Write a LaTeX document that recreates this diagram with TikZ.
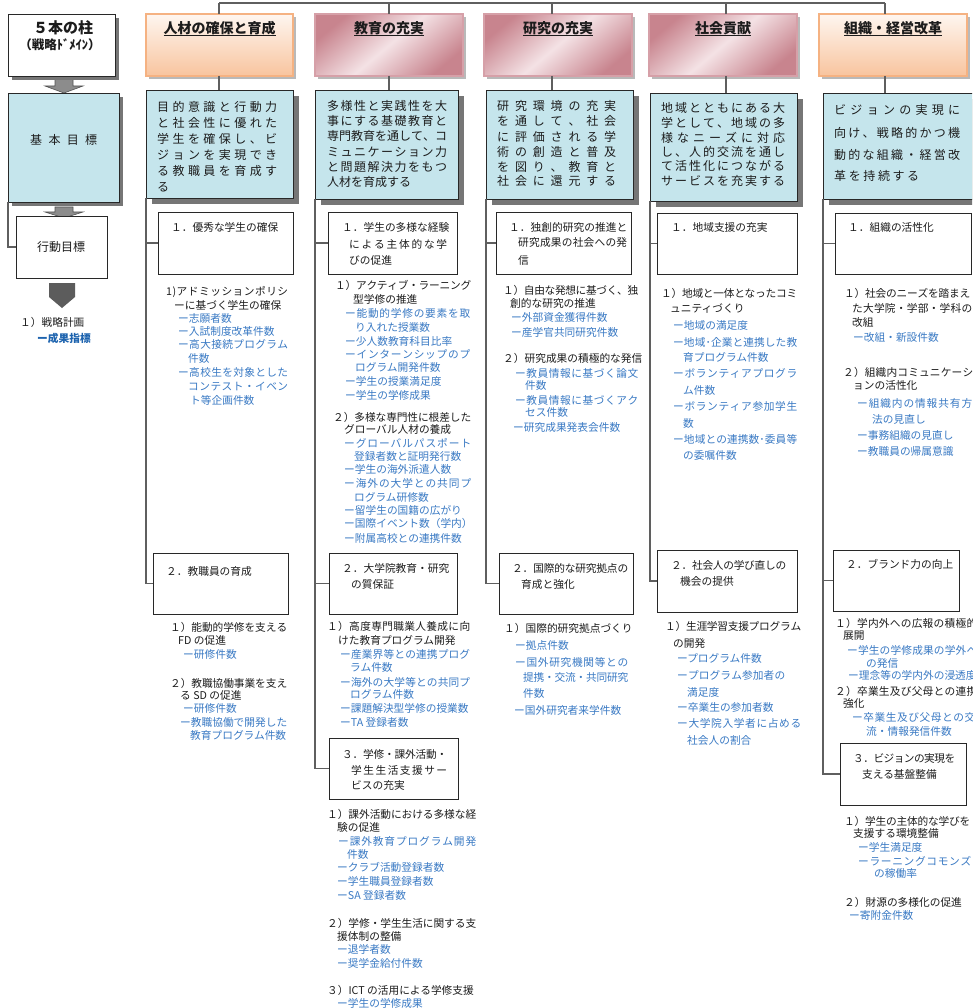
\documentclass[tikz,border=0pt]{standalone}
\usepackage{fontspec}
\usetikzlibrary{shadows,calc}
\newfontfamily\jp{Noto Sans CJK JP}
\definecolor{tblack}{RGB}{28,28,28}
\definecolor{lnk}{RGB}{58,122,196}
\definecolor{lnkdark}{RGB}{30,100,175}
\definecolor{bluefill}{RGB}{197,229,236}
\definecolor{orangetop}{RGB}{254,246,240}
\definecolor{orangebot}{RGB}{248,196,158}
\definecolor{orangeedge}{RGB}{245,178,130}
\definecolor{pinkdark}{RGB}{200,132,142}
\definecolor{pinklight}{RGB}{244,226,229}
\definecolor{pinkedge}{RGB}{214,160,168}
\definecolor{conngray}{RGB}{95,95,95}
\definecolor{edge}{RGB}{40,40,40}
\definecolor{shadowdark}{RGB}{118,118,118}
\definecolor{shadowlight}{RGB}{185,185,185}
\definecolor{arrowgray}{RGB}{140,140,140}
\definecolor{arrowdark}{RGB}{92,92,92}
\makeatletter
\newcommand\spreadit[1]{\let\sp@g\relax\@tfor\sp@c:=#1\do{\sp@g\sp@c\def\sp@g{\hskip 0pt plus 1fil minus 1.2pt\relax}}}
\makeatother
\newcounter{ln}
\newcommand\Tx[4][tx]{\stepcounter{ln}\node[#1] (t\theln) at (#2,#3) {#4};}
\newcommand\Tj[5][tx]{\stepcounter{ln}\pgfmathsetmacro\ww{#4-#2}\node[#1] (t\theln) at (#2,#3) {\hbox to \ww pt{\spreadit{#5}}};}
\newcommand\Bx[6]{\node[#2, minimum width={#5-#3}, minimum height={#6-#4}] (#1) at (#3,#4) {};}
\newcommand\ulbox[1]{\setbox0\hbox{#1}\rlap{\vrule width\wd0 height -1.6pt depth 2.7pt}\box0}
\begin{document}
\begin{tikzpicture}[x=1pt,y=-1pt,
 tx/.style={anchor=base west, inner sep=0pt, yshift=-4pt, text=tblack, font=\jp\fontsize{10.7}{12}\selectfont},
 bt/.style={tx, text=lnk},
 bbt/.style={tx, text=lnkdark, font=\jp\bfseries\fontsize{10.7}{12}\selectfont},
 gt/.style={anchor=base west, inner sep=0pt, yshift=-4.6pt, text=tblack, font=\jp\fontsize{12}{14}\selectfont},
 ttl/.style={inner sep=0pt, text=tblack, font=\jp\bfseries\fontsize{14}{16}\selectfont},
 boxbase/.style={anchor=north west, inner sep=0pt, outer sep=0pt},
 wbox/.style={boxbase, draw=edge, line width=0.9pt, fill=white},
 bbox/.style={boxbase, draw=edge, line width=0.9pt, fill=bluefill, drop shadow={shadow xshift=#1, shadow yshift=-#1, fill=shadowdark, opacity=1}},
 bbox/.default=6pt,
 obox/.style={boxbase, draw=orangeedge, line width=1.2pt, top color=orangetop, bottom color=orangebot, drop shadow={shadow xshift=3pt, shadow yshift=-3pt, fill=shadowlight, opacity=1}},
 pbox/.style={boxbase, draw=pinkedge, line width=1.2pt, top color=pinkdark, bottom color=pinkdark, middle color=pinklight, shading angle=40, drop shadow={shadow xshift=3pt, shadow yshift=-3pt, fill=shadowlight, opacity=1}},
 conn/.style={draw=conngray, line width=1.1pt}
]
\useasboundingbox (0,0) rectangle (972,1008);
\fill[white] (0,0) rectangle (972,1008);
\clip (0,0) rectangle (972,1008);

% ---------- left column ----------
\filldraw[fill=arrowgray, draw=edge!80, line width=0.6pt] (55,78) -- (73,78) -- (73,86) -- (83,86) -- (64,93) -- (45,86) -- (55,86) -- cycle;
\filldraw[fill=arrowgray, draw=edge!80, line width=0.6pt] (55,207) -- (73,207) -- (73,212) -- (83,212) -- (64,218) -- (45,212) -- (55,212) -- cycle;
\Bx{p5}{wbox, drop shadow={shadow xshift=4pt, shadow yshift=-4pt, fill=shadowdark, opacity=1}}{8}{14}{115}{76}
\node[ttl, font=\jp\bfseries\fontsize{15}{17}\selectfont] (p5a) at (63,28) {５本の柱};
\node[ttl, font=\jp\bfseries\fontsize{12.5}{15}\selectfont] (p5b) at (60,45) {（戦略ﾄﾞﾒｲﾝ）};
\Bx{kihon}{bbox=4pt}{8}{93}{119}{202}
\Tj[gt]{30}{140}{97}{基本目標}
\Bx{kodo}{wbox}{16}{216}{107}{278}
\Tx[gt]{37}{247}{行動目標}
\draw[conn] (kihon.south west) |- (kodo.west);
\fill[arrowdark] (49,283) -- (75,283) -- (75,297) -- (62,308) -- (49,297) -- cycle;
\Tx{20}{322}{１）戦略計画}
\Tx[bbt]{37}{338}{ー成果指標}

% ---------- boxes ----------
\Bx{h1}{obox}{146}{14}{293}{76}
\Bx{h2}{pbox}{315}{14}{463}{76}
\Bx{h3}{pbox}{484}{14}{632}{76}
\Bx{h4}{pbox}{649}{14}{797}{76}
\Bx{h5}{obox}{819}{14}{967}{76}
\Bx{g1}{bbox}{146}{90}{293}{198}
\Bx{g2}{bbox}{315}{90}{458}{199}
\Bx{g3}{bbox}{486}{90}{633}{199}
\Bx{g4}{bbox}{650}{93}{797}{201}
\Bx{g5}{bbox}{823}{93}{985}{199}
\Bx{b11}{wbox}{158}{212}{293}{274}
\Bx{b12}{wbox}{153}{553}{288}{614}
\Bx{b21}{wbox}{328}{212}{457}{274}
\Bx{b22}{wbox}{329}{553}{457}{614}
\Bx{b23}{wbox}{329}{738}{458}{799}
\Bx{b31}{wbox}{496}{212}{631}{274}
\Bx{b32}{wbox}{499}{553}{633}{614}
\Bx{b41}{wbox}{657}{213}{797}{274}
\Bx{b42}{wbox}{657}{550}{797}{612}
\Bx{b51}{wbox}{835}{213}{971}{274}
\Bx{b52}{wbox}{833}{550}{959}{611}
\Bx{b53}{wbox}{840}{743}{966}{805}

% ---------- connectors ----------
\coordinate (k1) at (219,3);
\coordinate (k2) at (389,3);
\coordinate (k3) at (552,3);
\coordinate (k4) at (726,3);
\coordinate (k5) at (885,3);
\draw[conn] (k1) -- (k5);
\foreach \i in {1,...,5}{
  \draw[conn] (k\i) -- (k\i |- h\i.north);
  \draw[conn] (k\i |- h\i.south) -- (k\i |- g\i.north);
}
\draw[conn] (g1.south west) |- (b11.west);
\draw[conn] (g1.south west) |- (b12.west);
\draw[conn] (g2.south west) |- (b21.west);
\draw[conn] (g2.south west) |- (b22.west);
\draw[conn] (g2.south west) |- (b23.west);
\draw[conn] (g3.south west) |- (b31.west);
\draw[conn] (g3.south west) |- (b32.west);
\draw[conn] (g4.south west) |- (b41.west);
\draw[conn] (g4.south west) |- (b42.west);
\draw[conn] (g5.south west) |- (b51.west);
\draw[conn] (g5.south west) |- (b52.west);
\draw[conn] (g5.south west) |- (b53.west);

% ---------- titles ----------
\node[ttl] (h1t) at ([yshift=-15pt]h1.north) {\ulbox{人材の確保と育成}};
\node[ttl] (h2t) at ([yshift=-15pt]h2.north) {\ulbox{教育の充実}};
\node[ttl] (h3t) at ([yshift=-15pt]h3.north) {\ulbox{研究の充実}};
\node[ttl] (h4t) at ([yshift=-15pt]h4.north) {\ulbox{社会貢献}};
\node[ttl] (h5t) at ([yshift=-15pt]h5.north) {\ulbox{組織・経営改革}};

% ---------- column 1 ----------
\Tj[gt]{157}{107}{277}{目的意識と行動力}
\Tj[gt]{157}{123}{277}{と社会性に優れた}
\Tj[gt]{157}{139}{277}{学生を確保し、ビ}
\Tj[gt]{157}{155}{277}{ジョンを実現でき}
\Tj[gt]{157}{171}{277}{る教職員を育成す}
\Tx[gt]{157}{187}{る}
\Tx{171}{228}{１．優秀な学生の確保}
\Tj{166}{291}{288}{1)アドミッションポリシ}
\Tx{174}{305}{ーに基づく学生の確保}
\Tx[bt]{178}{318}{ー志願者数}
\Tx[bt]{178}{331}{ー入試制度改革件数}
\Tj[bt]{178}{344}{288}{ー高大接続プログラム}
\Tx[bt]{188}{358}{件数}
\Tj[bt]{178}{372}{288}{ー高校生を対象とした}
\Tj[bt]{188}{386}{288}{コンテスト・イベン}
\Tx[bt]{190}{400}{ト等企画件数}
\Tx{166}{571}{２．教職員の育成}
\Tj{170}{627}{287}{１）能動的学修を支える}
\Tx{178}{640}{FD の促進}
\Tx[bt]{183}{654}{ー研修件数}
\Tj{170}{683}{287}{２）教職協働事業を支え}
\Tx{180}{695}{る SD の促進}
\Tx[bt]{183}{708}{ー研修件数}
\Tj[bt]{180}{722}{287}{ー教職協働で開発した}
\Tx[bt]{190}{735}{教育プログラム件数}

% ---------- column 2 ----------
\Tj[gt]{327}{106}{447}{多様性と実践性を大}
\Tj[gt]{327}{121}{447}{事にする基礎教育と}
\Tj[gt]{327}{136}{447}{専門教育を通して、コ}
\Tj[gt]{327}{152}{447}{ミュニケーション力}
\Tj[gt]{327}{167}{447}{と問題解決力をもつ}
\Tx[gt]{327}{182}{人材を育成する}
\Tx{342}{228}{１．学生の多様な経験}
\Tj{349}{244}{447}{による主体的な学}
\Tx{349}{260}{びの促進}
\Tj{335}{285}{471}{１）アクティブ・ラーニング}
\Tx{353}{299}{型学修の推進}
\Tj[bt]{345}{313}{470}{ー能動的学修の要素を取}
\Tx[bt]{355}{327}{り入れた授業数}
\Tx[bt]{345}{341}{ー少人数教育科目比率}
\Tj[bt]{345}{354}{470}{ーインターンシップのプ}
\Tx[bt]{355}{367}{ログラム開発件数}
\Tx[bt]{345}{381}{ー学生の授業満足度}
\Tx[bt]{345}{395}{ー学生の学修成果}
\Tj{333}{417}{471}{２）多様な専門性に根差した}
\Tx{344}{429}{グローバル人材の養成}
\Tj[bt]{344}{443}{471}{ーグローバルパスポート}
\Tx[bt]{354}{456}{登録者数と証明発行数}
\Tx[bt]{344}{469}{ー学生の海外派遣人数}
\Tj[bt]{344}{483}{471}{ー海外の大学との共同プ}
\Tx[bt]{354}{497}{ログラム研修数}
\Tx[bt]{344}{510}{ー留学生の国籍の広がり}
\Tx[bt]{344}{523}{ー国際イベント数（学内）}
\Tx[bt]{344}{538}{ー附属高校との連携件数}
\Tx{342}{568}{２．大学院教育・研究}
\Tx{351}{584}{の質保証}
\Tj{327}{626}{470}{１）高度専門職業人養成に向}
\Tx{338}{640}{けた教育プログラム開発}
\Tj[bt]{340}{654}{470}{ー産業界等との連携プログ}
\Tx[bt]{350}{667}{ラム件数}
\Tj[bt]{340}{682}{470}{ー海外の大学等との共同プ}
\Tx[bt]{350}{694}{ログラム件数}
\Tx[bt]{340}{708}{ー課題解決型学修の授業数}
\Tx[bt]{340}{722}{ーTA 登録者数}
\Tj{342}{754}{447}{３．学修・課外活動・}
\Tj{351}{770}{447}{学生生活支援サー}
\Tx{351}{785}{ビスの充実}
\Tj{327}{814}{476}{１）課外活動における多様な経}
\Tx{337}{827}{験の促進}
\Tj[bt]{338}{841}{476}{ー課外教育プログラム開発}
\Tx[bt]{347}{854}{件数}
\Tx[bt]{337}{867}{ークラブ活動登録者数}
\Tx[bt]{337}{881}{ー学生職員登録者数}
\Tx[bt]{337}{895}{ーSA 登録者数}
\Tj{327}{923}{476}{２）学修・学生生活に関する支}
\Tx{337}{936}{援体制の整備}
\Tx[bt]{337}{949}{ー退学者数}
\Tx[bt]{337}{963}{ー奨学金給付件数}
\Tx{327}{990}{３）ICT の活用による学修支援}
\Tx[bt]{337}{1003}{ー学生の学修成果}

% ---------- column 3 ----------
\Tj[gt]{497}{106}{616}{研究環境の充実}
\Tj[gt]{497}{121}{616}{を通して、社会}
\Tj[gt]{497}{137}{616}{に評価される学}
\Tj[gt]{497}{152}{616}{術の創造と普及}
\Tj[gt]{497}{167}{616}{を図り、教育と}
\Tj[gt]{497}{181}{616}{社会に還元する}
\Tj{509}{228}{627}{１．独創的研究の推進と}
\Tj{518}{243}{627}{研究成果の社会への発}
\Tx{518}{260}{信}
\Tj{503}{290}{638}{１）自由な発想に基づく、独}
\Tx{510}{303}{創的な研究の推進}
\Tx[bt]{511}{317}{ー外部資金獲得件数}
\Tx[bt]{511}{332}{ー産学官共同研究件数}
\Tx{503}{358}{２）研究成果の積極的な発信}
\Tj[bt]{515}{373}{638}{ー教員情報に基づく論文}
\Tx[bt]{525}{385}{件数}
\Tj[bt]{515}{400}{638}{ー教員情報に基づくアク}
\Tx[bt]{525}{412}{セス件数}
\Tx[bt]{513}{427}{ー研究成果発表会件数}
\Tj{512}{568}{628}{２．国際的な研究拠点の}
\Tx{521}{584}{育成と強化}
\Tx{504}{628}{１）国際的研究拠点づくり}
\Tx[bt]{515}{645}{ー拠点件数}
\Tj[bt]{515}{662}{628}{ー国外研究機関等との}
\Tj[bt]{523}{677}{628}{提携・交流・共同研究}
\Tx[bt]{523}{693}{件数}
\Tx[bt]{514}{710}{ー国外研究者来学件数}

% ---------- column 4 ----------
\Tj[gt]{661}{108}{785}{地域とともにある大}
\Tj[gt]{661}{123}{785}{学として、地域の多}
\Tj[gt]{661}{138}{785}{様なニーズに対応}
\Tj[gt]{661}{152}{785}{し、人的交流を通し}
\Tj[gt]{661}{166}{785}{て活性化につながる}
\Tj[gt]{661}{181}{785}{サービスを充実する}
\Tx{671}{228}{１．地域支援の充実}
\Tj{661}{293}{797}{１）地域と一体となったコミ}
\Tx{670}{308}{ュニティづくり}
\Tx[bt]{673}{325}{ー地域の満足度}
\Tj[bt]{673}{342}{797}{ー地域･企業と連携した教}
\Tx[bt]{683}{357}{育プログラム件数}
\Tj[bt]{673}{373}{797}{ーボランティアプログラ}
\Tx[bt]{683}{390}{ム件数}
\Tj[bt]{673}{406}{797}{ーボランティア参加学生}
\Tx[bt]{683}{423}{数}
\Tj[bt]{673}{439}{797}{ー地域との連携数･委員等}
\Tx[bt]{683}{455}{の委嘱件数}
\Tj{671}{565}{786}{２．社会人の学び直しの}
\Tx{680}{581}{機会の提供}
\Tj{665}{626}{801}{１）生涯学習支援プログラム}
\Tx{673}{643}{の開発}
\Tx[bt]{677}{658}{ープログラム件数}
\Tj[bt]{677}{675}{785}{ープログラム参加者の}
\Tx[bt]{687}{692}{満足度}
\Tx[bt]{677}{707}{ー卒業生の参加者数}
\Tj[bt]{677}{723}{801}{ー大学院入学者に占める}
\Tx[bt]{687}{740}{社会人の割合}

% ---------- column 5 ----------
\Tj[gt]{834}{110}{960}{ビジョンの実現に}
\Tj[gt]{834}{133}{960}{向け、戦略的かつ機}
\Tj[gt]{834}{155}{960}{動的な組織・経営改}
\Tj[gt]{834}{176}{919}{革を持続する}
\Tx{848}{228}{１．組織の活性化}
\Tj{844}{293}{970}{１）社会のニーズを踏まえ}
\Tj{852}{308}{972}{た大学院・学部・学科の}
\Tx{852}{322}{改組}
\Tx[bt]{853}{337}{ー改組・新設件数}
\Tj{843}{372}{973}{２）組織内コミュニケーシ}
\Tx{853}{385}{ョンの活性化}
\Tj[bt]{857}{403}{972}{ー組織内の情報共有方}
\Tx[bt]{872}{419}{法の見直し}
\Tx[bt]{857}{435}{ー事務組織の見直し}
\Tx[bt]{857}{451}{ー教職員の帰属意識}
\Tx{846}{564}{２．ブランド力の向上}
\Tj{835}{623}{977}{１）学内外への広報の積極的}
\Tx{843}{635}{展開}
\Tj[bt]{847}{650}{977}{ー学生の学修成果の学外へ}
\Tx[bt]{866}{663}{の発信}
\Tx[bt]{848}{675}{ー理念等の学内外の浸透度}
\Tj{835}{691}{977}{２）卒業生及び父母との連携}
\Tx{843}{703}{強化}
\Tj[bt]{852}{717}{975}{ー卒業生及び父母との交}
\Tx[bt]{866}{731}{流・情報発信件数}
\Tj{853}{758}{955}{３．ビジョンの実現を}
\Tx{862}{774}{支える基盤整備}
\Tj{844}{821}{970}{１）学生の主体的な学びを}
\Tx{853}{833}{支援する環境整備}
\Tx[bt]{858}{847}{ー学生満足度}
\Tj[bt]{858}{861}{971}{ーラーニングコモンズ}
\Tx[bt]{874}{873}{の稼働率}
\Tx{844}{902}{２）財源の多様化の促進}
\Tx[bt]{849}{915}{ー寄附金件数}
\end{tikzpicture}
\end{document}
